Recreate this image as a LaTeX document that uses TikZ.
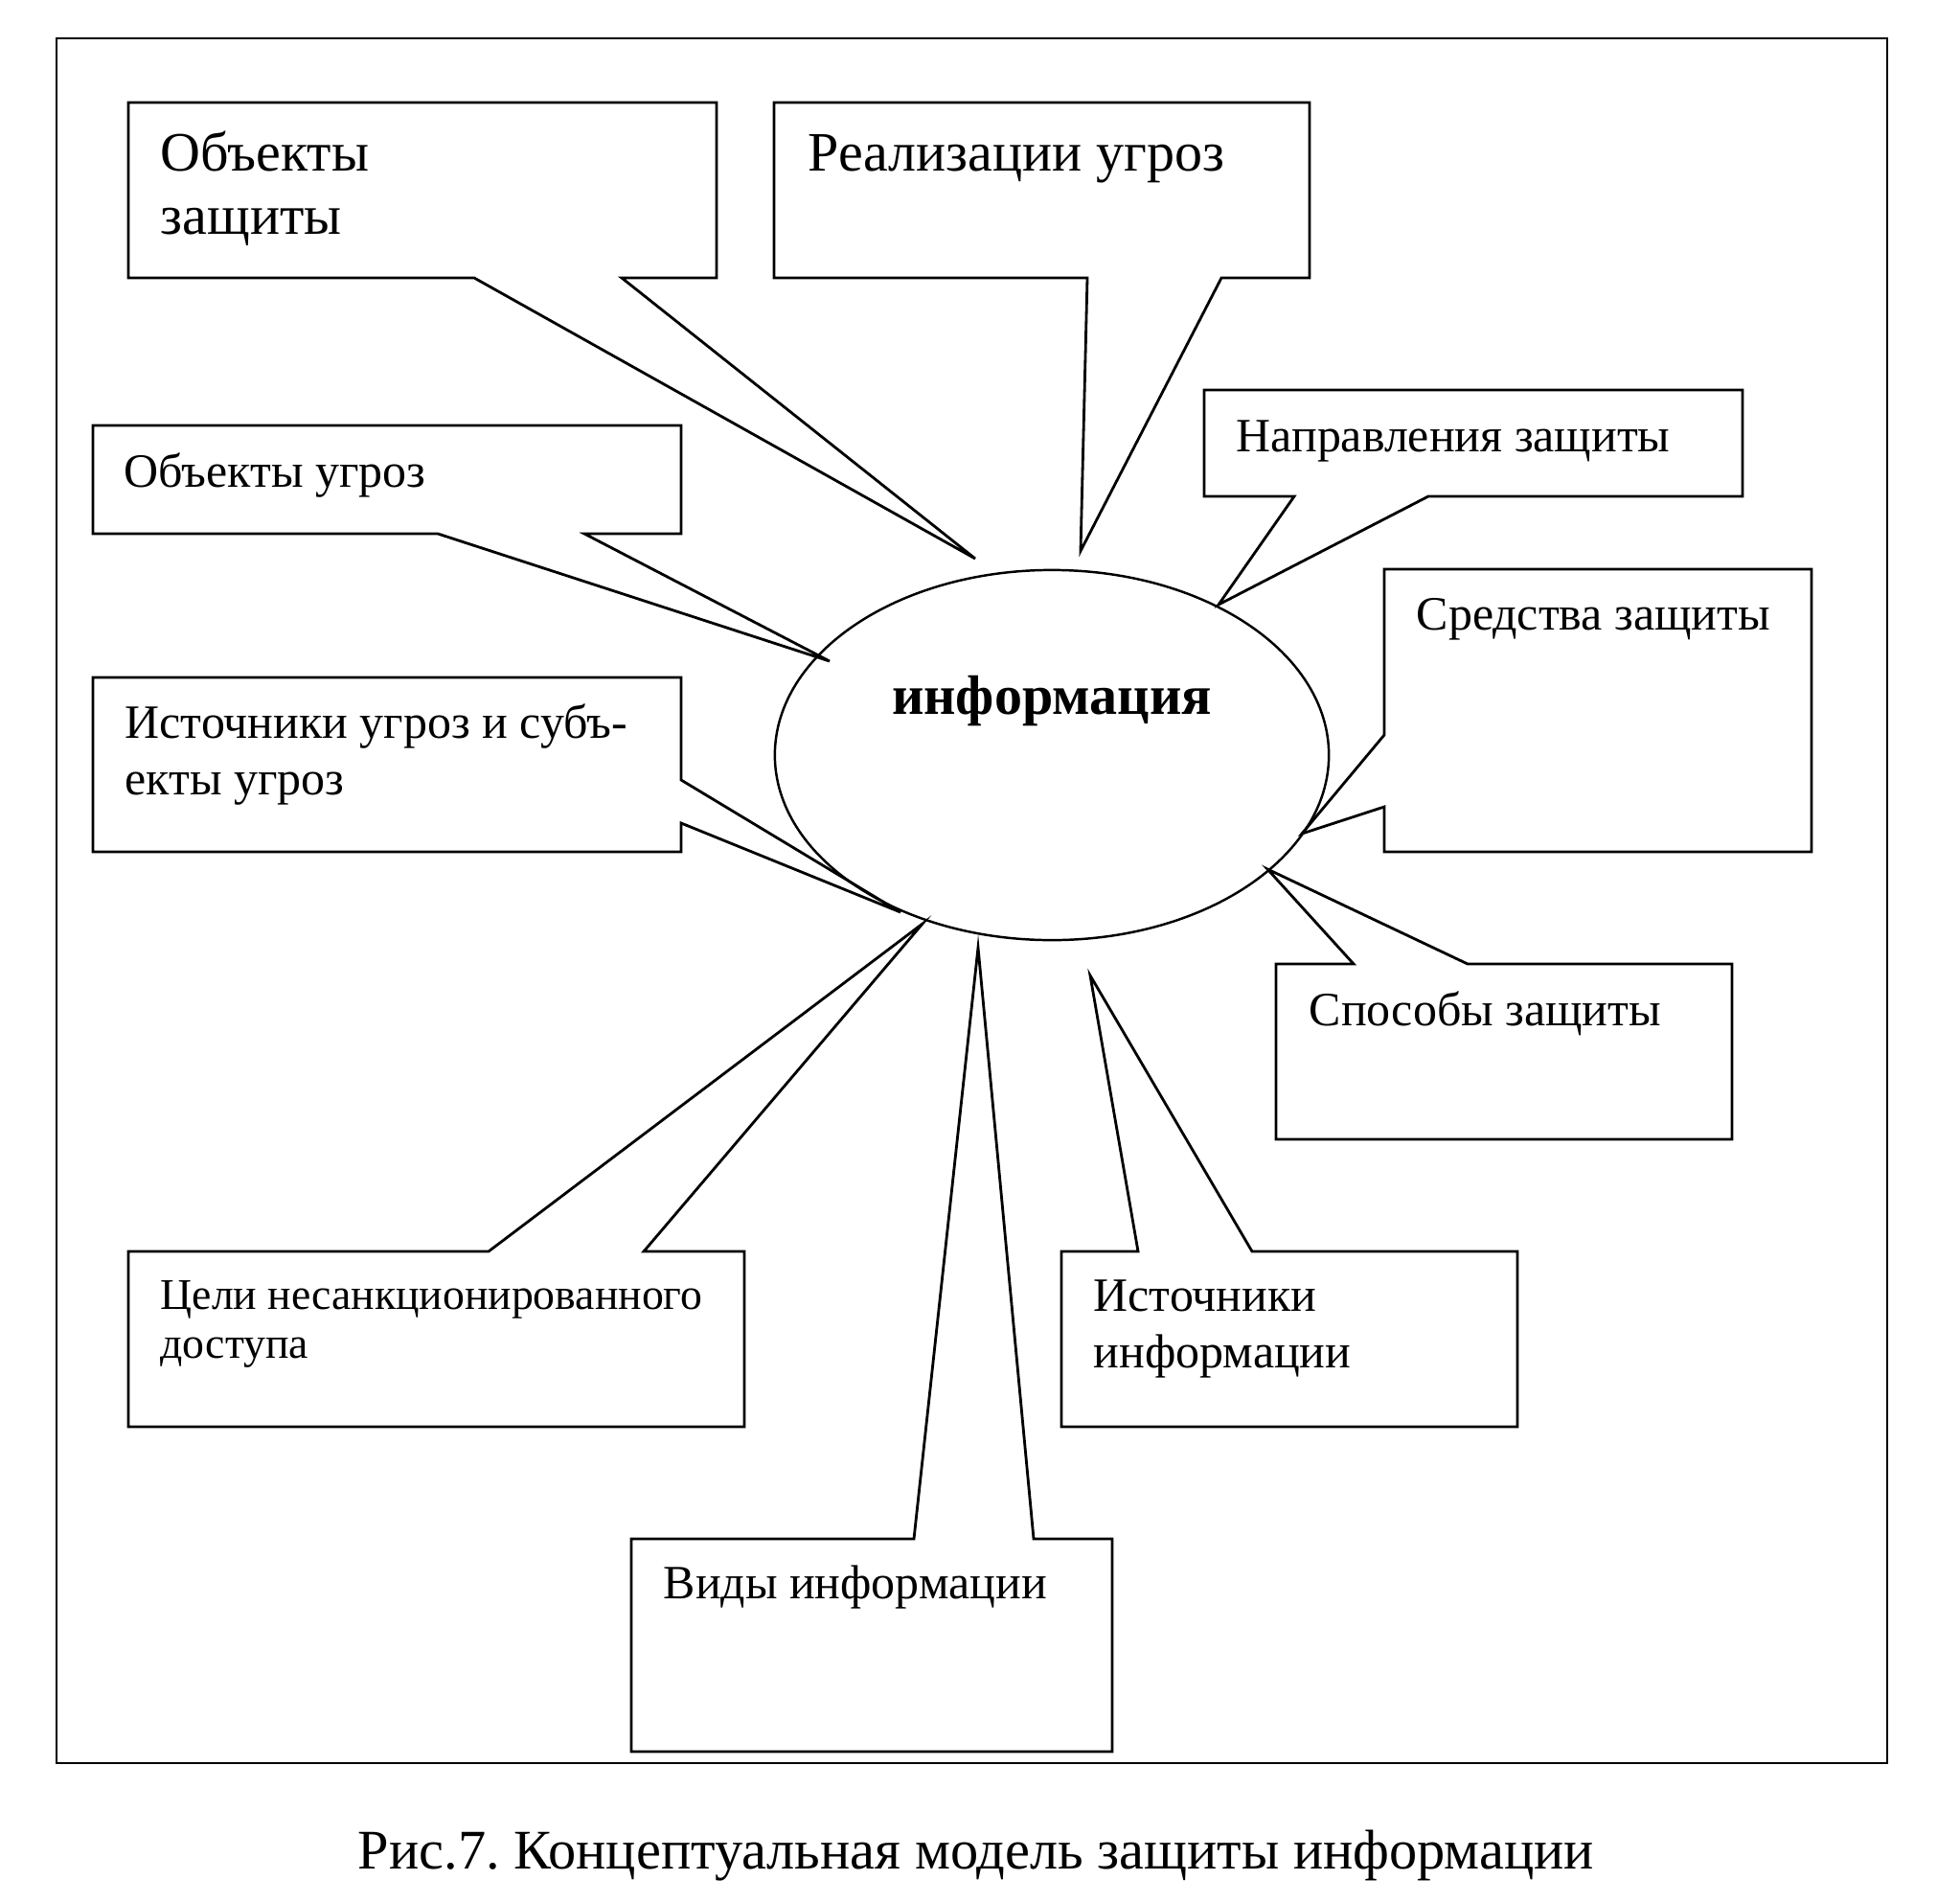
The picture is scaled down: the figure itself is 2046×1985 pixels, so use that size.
\documentclass[tikz,border=0pt]{standalone}
\usepackage{fontspec}
\setmainfont{Liberation Serif}
\usetikzlibrary{shapes.geometric}
\frenchspacing

\tikzset{
    bigtxt/.style={anchor=base west, inner sep=0pt, font=\fontsize{16.5}{20}\selectfont},
    midtxt/.style={anchor=base west, inner sep=0pt, font=\fontsize{14.2}{17}\selectfont},
    callout/.style={draw, line width=0.8pt, line join=miter},
}

\begin{document}
\begin{tikzpicture}[x=0.01cm, y=-0.01cm]
    \useasboundingbox (0,0) rectangle (2046,1985);
    \draw[line width=0.8pt] (59,40) rectangle (1970,1840);

    % centre
    \node[ellipse, draw, line width=0.7pt, minimum width=5.78cm, minimum height=3.86cm] (info) at (1098,788) {};
    \node[anchor=base, inner sep=0pt, font=\fontsize{16.5}{20}\selectfont\bfseries] (infotxt) at (1098,745) {информация};

    % tips of the callouts
    \coordinate (p-objprot) at (1018,583);
    \coordinate (p-realiz) at (1128,575);
    \coordinate (p-objthr) at (866,690);
    \coordinate (p-direct) at (1272,631);
    \coordinate (p-means) at (1359,870);
    \coordinate (p-srcthr) at (940,952);
    \coordinate (p-methods) at (1323,907);
    \coordinate (p-goals) at (963,964);
    \coordinate (p-infsrc) at (1138,1018);
    \coordinate (p-kinds) at (1021,989);

    % callouts
    \draw[callout] (134,107) -- (748,107) -- (748,290) -- (649,290) -- (p-objprot) -- (495,290) -- (134,290) -- cycle;
    \draw[callout] (808,107) -- (1367,107) -- (1367,290) -- (1275,290) -- (p-realiz) -- (1135,290) -- (808,290) -- cycle;
    \draw[callout] (97,444) -- (711,444) -- (711,557) -- (610,557) -- (p-objthr) -- (457,557) -- (97,557) -- cycle;
    \draw[callout] (1257,407) -- (1819,407) -- (1819,518) -- (1491,518) -- (p-direct) -- (1351,518) -- (1257,518) -- cycle;
    \draw[callout] (1445,594) -- (1891,594) -- (1891,889) -- (1445,889) -- (1445,842) -- (p-means) -- (1445,767) -- cycle;
    \draw[callout] (97,707) -- (711,707) -- (711,814) -- (p-srcthr) -- (711,859) -- (711,889) -- (97,889) -- cycle;
    \draw[callout] (1332,1006) -- (1413,1006) -- (p-methods) -- (1532,1006) -- (1808,1006) -- (1808,1189) -- (1332,1189) -- cycle;
    \draw[callout] (134,1306) -- (510,1306) -- (p-goals) -- (672,1306) -- (777,1306) -- (777,1489) -- (134,1489) -- cycle;
    \draw[callout] (1108,1306) -- (1188,1306) -- (p-infsrc) -- (1307,1306) -- (1584,1306) -- (1584,1489) -- (1108,1489) -- cycle;
    \draw[callout] (659,1606) -- (954,1606) -- (p-kinds) -- (1079,1606) -- (1161,1606) -- (1161,1828) -- (659,1828) -- cycle;

    % labels
    \node[bigtxt] (objprot1) at (167,179) {Объекты};
    \node[bigtxt] (objprot2) at (167,245) {защиты};
    \node[bigtxt] (realiz) at (843,179) {Реализации угроз};
    \node[midtxt] (objthr) at (129,508) {Объекты угроз};
    \node[midtxt] (direct) at (1290,471) {Направления защиты};
    \node[midtxt] (means) at (1478,657) {Средства защиты};
    \node[midtxt] (srcthr1) at (130,770) {Источники угроз и субъ-};
    \node[midtxt] (srcthr2) at (130,829) {екты угроз};
    \node[midtxt] (methods) at (1366,1070) {Способы защиты};
    \node[midtxt, font=\fontsize{13}{16}\selectfont] (goals1) at (167,1366) {Цели несанкционированного};
    \node[midtxt, font=\fontsize{13}{16}\selectfont] (goals2) at (167,1417) {доступа};
    \node[midtxt] (infsrc1) at (1141,1368) {Источники};
    \node[midtxt] (infsrc2) at (1141,1427) {информации};
    \node[midtxt] (kinds) at (692,1668) {Виды информации};

    \node[anchor=base, inner sep=0pt, font=\fontsize{16.6}{20}\selectfont] (caption) at (1019,1950) {Рис.7. Концептуальная модель защиты информации};
\end{tikzpicture}
\end{document}
